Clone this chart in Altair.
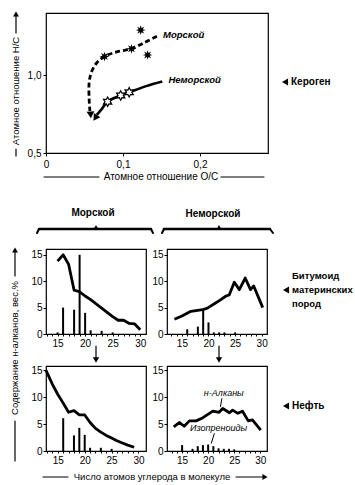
import altair as alt
import pandas as pd

FONT = "Liberation Sans"

# ---------------- Top panel: atomic H/C vs O/C (kerogen) ----------------
mar_path_x = [0.144, 0.128, 0.111, 0.092, 0.076, 0.066, 0.059, 0.056, 0.056, 0.057]
mar_path_y = [1.25, 1.21, 1.17, 1.15, 1.12, 1.08, 1.02, 0.95, 0.85, 0.77]
mar_star_x = [0.076, 0.111, 0.123, 0.132]
mar_star_y = [1.12, 1.17, 1.29, 1.13]
non_path_x = [0.151, 0.130, 0.108, 0.097, 0.080, 0.072, 0.066]
non_path_y = [0.96, 0.93, 0.89, 0.87, 0.83, 0.78, 0.745]
non_star_x = [0.080, 0.097, 0.108]
non_star_y = [0.83, 0.87, 0.89]
tip_mar = [0.058, 0.745]
tip_non = [0.064, 0.725]
top_labels = ["Морской", "Неморской"]
top_label_x = [0.152, 0.159]
top_label_y = [1.26, 0.97]

# ---------------- Bottom panels: n-alkane distributions ----------------
# panel 1: marine, source-rock bitumen
p1_line_x = [15, 16, 17, 18, 19, 20, 21, 22, 23, 24, 25, 26, 27, 28, 29, 30]
p1_line_y = [13.8, 15.0, 13.2, 8.3, 8.0, 7.2, 6.5, 5.7, 4.9, 4.1, 3.3, 2.6, 2.6, 2.0, 1.9, 0.8]
p1_bar_x = [15, 16, 18, 19, 20, 21, 23, 25]
p1_bar_y = [0.3, 5.0, 4.6, 15.0, 4.0, 0.7, 0.6, 0.3]
# panel 2: non-marine, source-rock bitumen
p2_line_x = [13.6, 15, 16.7, 18.9, 19.8, 21.7, 23.3, 23.9, 24.85, 25.8, 26.9, 27.9, 28.5, 30.2]
p2_line_y = [2.8, 3.4, 4.3, 4.6, 4.9, 6.1, 7.2, 7.4, 9.8, 8.4, 10.6, 8.4, 9.1, 5.0]
p2_bar_x = [16, 18, 19, 20, 21, 22, 23, 25]
p2_bar_y = [0.9, 1.4, 4.6, 2.2, 0.3, 0.3, 0.3, 0.3]
# panel 3: marine, oil
p3_line_x = [12.8, 14, 15, 16, 17, 18, 19, 20, 21, 22, 23, 24, 25, 26, 27, 28, 29.2]
p3_line_y = [15.0, 12.4, 10.5, 8.9, 7.2, 7.5, 6.7, 6.7, 5.3, 4.2, 3.5, 2.9, 2.4, 1.9, 1.5, 1.1, 0.7]
p3_bar_x = [16, 18, 19, 20, 21, 23, 25]
p3_bar_y = [6.1, 2.9, 4.3, 3.0, 0.6, 0.6, 0.4]
# panel 4: non-marine, oil
p4_line_x = [13.4, 14.5, 15.4, 16.4, 17.7, 19, 20.9, 22.1, 22.8, 24.1, 24.7, 25.7, 26.6, 27.7, 28.5, 30.1]
p4_line_y = [4.5, 5.3, 4.6, 5.6, 5.6, 6.2, 7.4, 7.2, 7.9, 7.1, 7.6, 7.0, 7.4, 5.6, 5.8, 3.9]
p4_bar_x = [15, 17, 18, 19, 20, 21, 22, 23, 24, 25]
p4_bar_y = [1.1, 0.4, 0.9, 1.1, 1.2, 0.9, 0.5, 0.4, 0.4, 0.3]
p4_labels = ["н-Алканы", "Изопреноиды"]
p4_label_x = [23.0, 22.0]
p4_label_y = [10.8, 4.3]
p4_ptr_x1 = [22.65, 21.2]
p4_ptr_y1 = [9.8, 3.3]
p4_ptr_x2 = [22.35, 20.6]
p4_ptr_y2 = [8.2, 1.4]

STAR8 = ("M0,-1L0.172,-0.416L0.707,-0.707L0.416,-0.172L1,0L0.416,0.172L0.707,0.707"
         "L0.172,0.416L0,1L-0.172,0.416L-0.707,0.707L-0.416,0.172L-1,0L-0.416,-0.172"
         "L-0.707,-0.707L-0.172,-0.416Z")
STAR6 = ("M0,-1L0.275,-0.476L0.866,-0.5L0.55,0L0.866,0.5L0.275,0.476L0,1L-0.275,0.476"
         "L-0.866,0.5L-0.55,0L-0.866,-0.5L-0.275,-0.476Z")

one = pd.DataFrame({"k": [0]})


def txt(text, x, y, size=10, weight="normal", style="normal", align="left", angle=0):
    return alt.Chart(one).mark_text(
        text=text, fontSize=size, fontWeight=weight, fontStyle=style, align=align,
        baseline="middle", angle=angle, font=FONT, color="black"
    ).encode(x=alt.value(x), y=alt.value(y))


def rule(x1, y1, x2, y2, w=1.2):
    return alt.Chart(one).mark_rule(color="black", strokeWidth=w, strokeCap="round").encode(
        x=alt.value(x1), y=alt.value(y1), x2=alt.value(x2), y2=alt.value(y2))


def tri(shape, x, y, size=40, angle=0):
    return alt.Chart(one).mark_point(shape=shape, filled=True, color="black", size=size,
                                     angle=angle, opacity=1).encode(x=alt.value(x), y=alt.value(y))


# ---------------- top chart ----------------
X_TOP = alt.X("x:Q", scale=alt.Scale(domain=[0, 0.2883], nice=False, zero=False),
              axis=alt.Axis(values=[0, 0.1, 0.2], title=None, tickSize=3, labelPadding=3,
                            labelExpr="datum.value == 0 ? '0' : replace(format(datum.value, '.1f'), '.', ',')"))
Y_TOP = alt.Y("y:Q", scale=alt.Scale(domain=[0.5, 1.4], nice=False, zero=False),
              axis=alt.Axis(values=[0.5, 1.0], title=None, tickSize=3, labelPadding=2,
                            labelExpr="replace(format(datum.value, '.1f'), '.', ',')"))

mar_df = pd.DataFrame({"x": mar_path_x, "y": mar_path_y, "i": list(range(len(mar_path_x)))})
non_df = pd.DataFrame({"x": non_path_x, "y": non_path_y, "i": list(range(len(non_path_x)))})

top_layers = [
    alt.Chart(mar_df).mark_line(color="black", strokeWidth=2.8, strokeDash=[5, 3],
                                interpolate="catmull-rom").encode(x=X_TOP, y=Y_TOP, order="i:Q"),
    alt.Chart(non_df).mark_line(color="black", strokeWidth=2.6,
                                interpolate="catmull-rom").encode(x=X_TOP, y=Y_TOP, order="i:Q"),
    alt.Chart(pd.DataFrame({"x": mar_star_x, "y": mar_star_y})).mark_point(
        shape=STAR8, filled=True, color="black", size=95, opacity=1).encode(x=X_TOP, y=Y_TOP),
    alt.Chart(pd.DataFrame({"x": non_star_x, "y": non_star_y})).mark_point(
        shape=STAR6, filled=True, fill="white", stroke="black", strokeWidth=1.2, size=90,
        opacity=1).encode(x=X_TOP, y=Y_TOP),
    alt.Chart(pd.DataFrame({"x": [tip_mar[0]], "y": [tip_mar[1]]})).mark_point(
        shape="triangle-down", filled=True, color="black", size=60, angle=356, opacity=1
    ).encode(x=X_TOP, y=Y_TOP),
    alt.Chart(pd.DataFrame({"x": [tip_non[0]], "y": [tip_non[1]]})).mark_point(
        shape="triangle-down", filled=True, color="black", size=60, angle=33, opacity=1
    ).encode(x=X_TOP, y=Y_TOP),
    alt.Chart(pd.DataFrame({"x": top_label_x, "y": top_label_y, "t": top_labels})).mark_text(
        align="left", baseline="middle", fontSize=9.5, fontStyle="italic", fontWeight="bold",
        font=FONT, color="black").encode(x=X_TOP, y=Y_TOP, text="t:N"),
    # invisible anchor fixing the page origin
    alt.Chart(one).mark_rule(stroke="white", strokeOpacity=0, strokeWidth=0.5).encode(
        x=alt.value(-45), x2=alt.value(0), y=alt.value(-12), y2=alt.value(-12)),
    # H/C axis title with arrow
    txt("Атомное отношение H/C", -30, 78, size=9.5, angle=270, align="center"),
    rule(-30, 20, -30, 2),
    tri("triangle-up", -30, 1, size=35),
    rule(-30, 136, -30, 143),
    # O/C axis title with lines
    txt("Атомное отношение O/C", 115, 164, size=10, align="center"),
    rule(-2, 164, 53, 164),
    rule(175, 164, 218, 164),
    # Kerogen label
    tri("triangle-left", 239, 69, size=50),
    txt("Кероген", 245, 69, size=10, weight="bold"),
]
top = alt.layer(*top_layers).properties(width=222, height=140)


# ---------------- bottom panels ----------------
def panel(line_x, line_y, bar_x, bar_y, xdom, ydom, extra):
    X = alt.X("x:Q", scale=alt.Scale(domain=xdom, nice=False, zero=False),
              axis=alt.Axis(values=list(range(13, 31)), title=None, tickSize=2, labelPadding=2,
                            labelExpr="datum.value % 5 == 0 ? datum.label : ''"))
    Y = alt.Y("y:Q", scale=alt.Scale(domain=ydom, nice=False, zero=False),
              axis=alt.Axis(values=[0, 5, 10, 15], title=None, tickSize=3, labelPadding=1))
    ldf = pd.DataFrame({"x": line_x, "y": line_y, "i": list(range(len(line_x)))})
    bdf = pd.DataFrame({"x": bar_x, "y": bar_y})
    bars = alt.Chart(bdf).mark_rule(color="black", strokeWidth=2).encode(
        x=X, y=Y, y2=alt.Y2Datum(0))
    line = alt.Chart(ldf).mark_line(color="black", strokeWidth=2.8, strokeJoin="round").encode(
        x=X, y=Y, order="i:Q")
    ex = [e(X, Y) if callable(e) else e for e in extra]
    return alt.layer(bars, line, *ex).properties(width=100, height=85)


p1 = panel(p1_line_x, p1_line_y, p1_bar_x, p1_bar_y, [12.9, 31.05], [0, 16.1], [
    txt("Морской", 47, -36, size=10, weight="bold", align="center"),
    rule(-7, -20, 105, -20, w=2.5),
    rule(-7, -20, -9, -16, w=2),
    rule(105, -20, 107, -16, w=2),
    tri("triangle-up", 50, -22, size=22),
    txt("Содержание н-алканов, вес.%", -31, 99, size=9.5, angle=270, align="center"),
    rule(-31, 27, -31, 3),
    tri("triangle-up", -31, 1, size=35),
    rule(-31, 172, -31, 212),
    rule(50, 97, 50, 109),
    tri("triangle-down", 50, 111, size=40),
])

p2 = panel(p2_line_x, p2_line_y, p2_bar_x, p2_bar_y, [12.2, 31.0], [0, 16.1], [
    txt("Неморской", 46, -35, size=10, weight="bold", align="center"),
    rule(-3, -20, 103, -20, w=2.5),
    rule(103, -20, 106, -16, w=2),
    rule(-3, -20, -5, -16, w=2),
    tri("triangle-up", 52, -22, size=22),
    rule(52, 97, 52, 109),
    tri("triangle-down", 52, 111, size=40),
    tri("triangle-left", 119, 41, size=50),
    txt("Битумоид", 125, 27, size=9.5, weight="bold"),
    txt("материнских", 125, 41, size=9.5, weight="bold"),
    txt("пород", 125, 55, size=9.5, weight="bold"),
])

p3 = panel(p3_line_x, p3_line_y, p3_bar_x, p3_bar_y, [12.8, 31.4], [0, 15.8], [
    txt("Число атомов углерода в молекуле", 106, 111, size=9.5, align="center"),
    rule(-3, 111, 22, 111),
    rule(190, 111, 217, 111),
    tri("triangle-right", 219, 111, size=35),
])


def p4_labels_layer(X, Y):
    d = pd.DataFrame({"x": p4_label_x, "y": p4_label_y, "t": p4_labels})
    return alt.Chart(d).mark_text(fontSize=9, fontStyle="italic", font=FONT, color="black",
                                  align="center", baseline="middle").encode(x=X, y=Y, text="t:N")


def p4_ptr_layer(X, Y):
    d = pd.DataFrame({"x": p4_ptr_x1, "y": p4_ptr_y1, "x2": p4_ptr_x2, "y2": p4_ptr_y2})
    return alt.Chart(d).mark_rule(color="black", strokeWidth=1).encode(
        x=X, y=Y, x2="x2:Q", y2="y2:Q")


p4 = panel(p4_line_x, p4_line_y, p4_bar_x, p4_bar_y, [12.1, 31.3], [0, 15.8], [
    p4_labels_layer,
    p4_ptr_layer,
    tri("triangle-left", 119, 40, size=50),
    txt("Нефть", 125, 40, size=10, weight="bold"),
])

grid = alt.concat(p1, p2, p3, p4, columns=2, spacing={"row": 32, "column": 21}, bounds="flush")

chart = alt.vconcat(top, grid, spacing=96, bounds="flush").properties(
    padding=0, background="white"
).configure_view(stroke="black", strokeWidth=1.2).configure_axis(
    domain=False, grid=False, tickColor="black", labelColor="black", labelFont=FONT,
    labelFontSize=10, labelFlush=False, labelOverlap=False
)

chart.save("out.html", embed_options={"renderer": "svg", "actions": False})
